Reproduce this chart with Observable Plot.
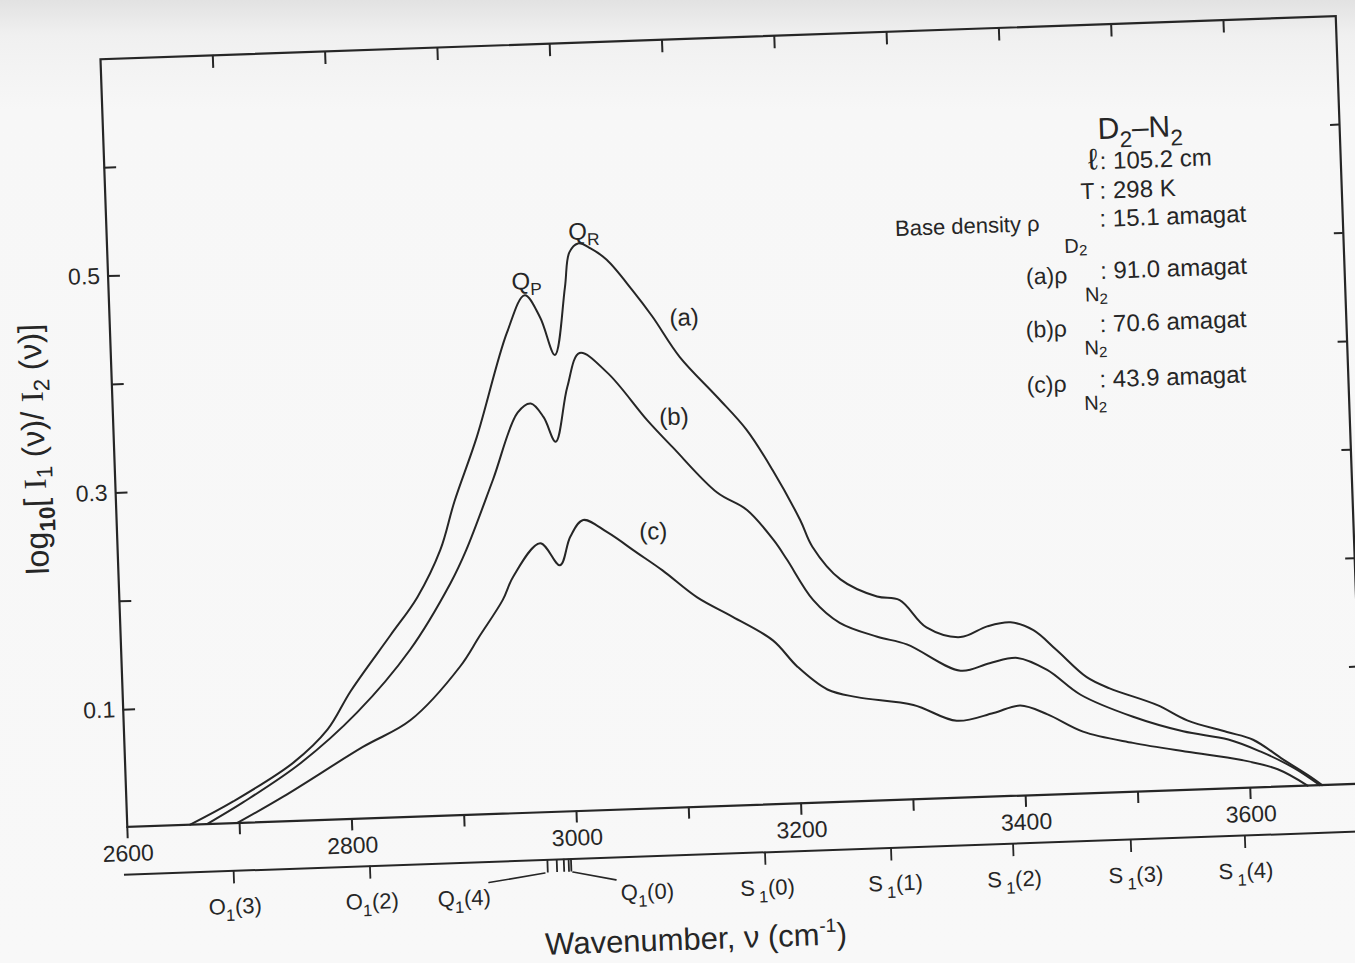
<!DOCTYPE html>
<html>
<head>
<meta charset="utf-8">
<script src="https://cdn.jsdelivr.net/npm/d3@7"></script>
<script src="https://cdn.jsdelivr.net/npm/@observablehq/plot@0.6"></script>
<style>
  html, body { margin: 0; padding: 0; }
  body {
    width: 1355px; height: 963px; overflow: hidden;
    background: linear-gradient(#e2e2e2 0px, #f0f0f0 35px, #f7f7f7 110px, #f8f8f8 100%);
  }
  #chart {
    position: absolute; left: 0; top: 0; width: 1355px; height: 963px;
    transform-origin: 731px 421px; transform: rotate(-2deg);
  }
</style>
</head>
<body>
<div id="chart"></div>
<script>
const INK = "#262626";
const SANS = "'Liberation Sans', Arial, Helvetica, sans-serif";
const SERIF = "'Liberation Serif', 'DejaVu Serif', serif";

// ---- spectra: wavenumber (cm^-1) and log10[I1/I2] ----
const wnA = [2656,2695,2750,2781,2803,2840,2865,2887,2901,2923,2953,2970,2983,2995,3006,3011,3019,3030,3044,3066,3083,3106,3138,3163,3185,3208,3218,3242,3274,3294,3317,3347,3371,3392,3412,3432,3458,3478,3520,3546,3581,3604,3630,3654,3664];
const valA = [-0.008,0.012,0.046,0.075,0.110,0.160,0.194,0.237,0.281,0.340,0.435,0.469,0.448,0.413,0.475,0.507,0.515,0.510,0.499,0.470,0.445,0.407,0.369,0.338,0.300,0.253,0.228,0.197,0.180,0.176,0.150,0.140,0.149,0.152,0.144,0.125,0.099,0.088,0.071,0.056,0.044,0.036,0.017,0.000,-0.008];

const wnB = [2671,2704,2756,2808,2857,2895,2910,2936,2960,2972,2983,2993,3005,3017,3041,3075,3097,3135,3161,3184,3195,3217,3240,3273,3299,3346,3372,3397,3423,3452,3498,3542,3582,3610,3639,3662];
const valB = [-0.008,0.011,0.045,0.090,0.146,0.206,0.236,0.300,0.361,0.369,0.356,0.333,0.383,0.414,0.395,0.350,0.324,0.281,0.264,0.235,0.217,0.179,0.157,0.143,0.135,0.109,0.115,0.119,0.107,0.083,0.061,0.046,0.037,0.025,0.009,-0.008];

const wnC = [2698,2740,2812,2855,2901,2919,2941,2951,2976,2993,3003,3015,3036,3062,3084,3114,3145,3180,3201,3227,3253,3303,3341,3374,3398,3422,3453,3497,3545,3592,3625,3651];
const valC = [-0.008,0.015,0.058,0.081,0.129,0.156,0.189,0.210,0.240,0.219,0.245,0.260,0.248,0.228,0.211,0.185,0.166,0.143,0.118,0.096,0.088,0.079,0.063,0.069,0.075,0.066,0.049,0.037,0.027,0.018,0.008,-0.008];

const seriesIds = ["a", "b", "c"];
const seriesLabelText = ["(a)", "(b)", "(c)"];
const seriesLabelW = [3111, 3099, 3077];
const seriesLabelV = [0.443, 0.352, 0.247];

// ---- axes ----
const xDomain = [2600, 3700];
const yDomain = [-0.008, 0.70];
const bottomTicks = [2600,2700,2800,2900,3000,3100,3200,3300,3400,3500,3600];
const bottomLabels = [2600,2800,3000,3200,3400,3600];
const topTicks = [2700,2800,2900,3000,3100,3200,3300,3400,3500,3600];
const yTicks = [0.1,0.2,0.3,0.4,0.5,0.6];
const yLabelTicks = [0.1,0.3,0.5];

// ---- D2 transition lines (secondary axis) ----
const lineTicks = [2693.2, 2814.6, 2972.6, 2980.9, 2987.2, 2991.5, 2993.6, 3166.4, 3278.6, 3387.3, 3492.1, 3593.7];
const transLetter = ["O","O","Q","Q","S","S","S","S","S"];
const transJ = ["(3)","(2)","(4)","(0)","(0)","(1)","(2)","(3)","(4)"];
const transLabelW = [2694, 2816, 2898, 3061, 3168, 3282, 3388, 3496, 3594];
const lineAxisV = -0.052;
const lineLabelV = -0.092;
const leaderIds = ["Q4","Q4","Q0","Q0"];
const leaderW = [2920, 2970, 2995, 3033];
const leaderV = [-0.071, -0.064, -0.064, -0.0726];

// ---- peak labels and parameter block ----
const peakLetterSub = ["P", "R"];
const peakW = [2959, 3011];
const peakV = [0.474, 0.518];

const titleW = 3523, titleV = 0.594;
const paramLeft = ["ℓ", "T", "Base density ρ", "(a)ρ", "(b)ρ", "(c)ρ"];
const paramSub = ["", "", "D", "N", "N", "N"];
const paramValue = [": 105.2 cm", ": 298 K", ": 15.1 amagat", ": 91.0 amagat", ": 70.6 amagat", ": 43.9 amagat"];
const paramColonW = [3486, 3485, 3484, 3483, 3481, 3479];
const paramBaseV = [0.566, 0.539, 0.513, 0.465, 0.416, 0.365];

// ---- build rows ----
const rows = [];
[[wnA, valA], [wnB, valB], [wnC, valC]].forEach(([ws, vs], s) =>
  ws.forEach((w, i) => rows.push({series: seriesIds[s], w, v: vs[i]})));
const leaderRows = leaderW.map((w, i) => ({id: leaderIds[i], w, v: leaderV[i]}));

// tick lengths expressed in data units (≈12 px)
const tickY = 0.011;

const plot = Plot.plot({
  width: 1355,
  height: 963,
  marginLeft: 113,
  marginRight: 6,
  marginTop: 37,
  marginBottom: 158,
  x: {domain: xDomain, label: null, axis: null},
  y: {domain: yDomain, label: null, axis: null},
  style: {background: "transparent", overflow: "visible", fontFamily: SANS, fontSize: "23px", color: INK},
  marks: [
    Plot.frame({stroke: INK, strokeWidth: 2.2}),
    // bottom ticks (outward) and labels
    Plot.ruleX(bottomTicks, {x: d => d, y1: yDomain[0], y2: yDomain[0] - tickY, stroke: INK, strokeWidth: 2}),
    Plot.text(bottomLabels, {x: d => d, y: yDomain[0], dy: 18, lineAnchor: "top", text: d => String(d),
      fontSize: 23, fill: INK}),
    // top ticks (inward)
    Plot.ruleX(topTicks, {x: d => d, y1: yDomain[1], y2: yDomain[1] - 0.012, stroke: INK, strokeWidth: 2}),
    // left ticks (inward) and labels
    Plot.ruleY(yTicks, {y: d => d, x1: xDomain[0], x2: xDomain[0] + 11, stroke: INK, strokeWidth: 2}),
    Plot.text(yLabelTicks, {x: xDomain[0], y: d => d, dx: -8, textAnchor: "end", text: d => d.toFixed(1),
      fontSize: 23, fill: INK}),
    // right ticks (inward)
    Plot.ruleY(yTicks, {y: d => d, x1: xDomain[1] - 8, x2: xDomain[1], stroke: INK, strokeWidth: 2}),
    // spectra
    Plot.line(rows, {x: "w", y: "v", z: "series", curve: "catmull-rom", stroke: INK, strokeWidth: 2}),
    Plot.text(seriesLabelText, {x: (d, i) => seriesLabelW[i], y: (d, i) => seriesLabelV[i],
      text: d => d, fontSize: 24, fill: INK}),
    // secondary axis with D2 line positions
    Plot.ruleY([lineAxisV], {y: d => d, x1: 2596, x2: 3720, stroke: INK, strokeWidth: 2}),
    Plot.ruleX(lineTicks, {x: d => d, y1: lineAxisV, y2: lineAxisV - 0.012, stroke: INK, strokeWidth: 1.8}),
    Plot.line(leaderRows, {x: "w", y: "v", z: "id", stroke: INK, strokeWidth: 1.6})
  ]
});

document.getElementById("chart").appendChild(plot);

// ---- rich text annotations placed through the plot's scales ----
const sx = plot.scale("x").apply, sy = plot.scale("y").apply;
const g = d3.select(plot).append("g").attr("fill", INK).style("white-space", "pre");

function rich(x, y, segs, o = {}) {
  const size = o.size || 23;
  const t = g.append("text").attr("x", x).attr("y", y)
    .attr("text-anchor", o.anchor || "start")
    .attr("font-family", o.family || SANS)
    .attr("font-size", size);
  if (o.rotate) t.attr("transform", `rotate(${o.rotate} ${x} ${y})`);
  let cur = 0;
  for (const s of segs) {
    const off = s.off || 0;
    const ts = t.append("tspan").text(s.t).attr("dy", off - cur);
    if (s.dx) ts.attr("dx", s.dx);
    cur = off;
    if (s.k) ts.attr("font-size", size * s.k);
    if (s.f) ts.attr("font-family", s.f);
    if (s.w) ts.attr("font-weight", s.w);
  }
  return t;
}

// peak labels Q_P, Q_R
peakLetterSub.forEach((sub, i) =>
  rich(sx(peakW[i]), sy(peakV[i]), [{t: "Q"}, {t: sub, off: 6, k: 0.72}], {size: 24}));

// title D2–N2
rich(sx(titleW), sy(titleV), [{t: "D"}, {t: "2", off: 9, k: 0.75}, {t: "–N", off: 0}, {t: "2", off: 9, k: 0.75}],
  {anchor: "middle", size: 30});

// parameter lines
paramLeft.forEach((left, i) => {
  const cx = sx(paramColonW[i]), by = sy(paramBaseV[i]);
  if (i === 0) rich(cx - 2, by, [{t: left}], {anchor: "end", size: 30});
  else if (i === 1) rich(cx - 5, by, [{t: left}], {anchor: "end", size: 23});
  else if (i === 2) {
    rich(cx - 60, by + 2, [{t: left}], {anchor: "end", size: 22});
    rich(cx - 36, by + 25, [{t: paramSub[i]}, {t: "2", off: 3, k: 0.75}], {size: 20});
  } else {
    rich(cx - 33, by + 3, [{t: left}], {anchor: "end", size: 23});
    rich(cx - 16, by + 22, [{t: paramSub[i]}, {t: "2", off: 3, k: 0.75}], {size: 20});
  }
  rich(cx, by, [{t: paramValue[i]}], {size: 24});
});

// transition line labels
transLetter.forEach((L, i) => {
  rich(sx(transLabelW[i]), sy(lineLabelV), [{t: L}, {t: "1", off: 7, k: 0.75, dx: L === "S" ? 4 : 0}, {t: transJ[i], off: 0}],
    {anchor: "middle", size: 22});
});

// axis titles
rich(678, 948, [{t: "Wavenumber, ν (cm"}, {t: "-1", off: -13, k: 0.62}, {t: ")", off: 0}],
  {anchor: "middle", size: 31});
rich(44, 425, [
  {t: "log"}, {t: "10", off: 8, k: 0.7, w: "bold"}, {t: "[ ", off: 0},
  {t: "I", f: SERIF}, {t: "1", off: 7, k: 0.7}, {t: " (ν)/ ", off: 0},
  {t: "I", f: SERIF}, {t: "2", off: 7, k: 0.7}, {t: " (ν)]", off: 0}
], {anchor: "middle", size: 32, rotate: -90});
</script>
</body>
</html>
